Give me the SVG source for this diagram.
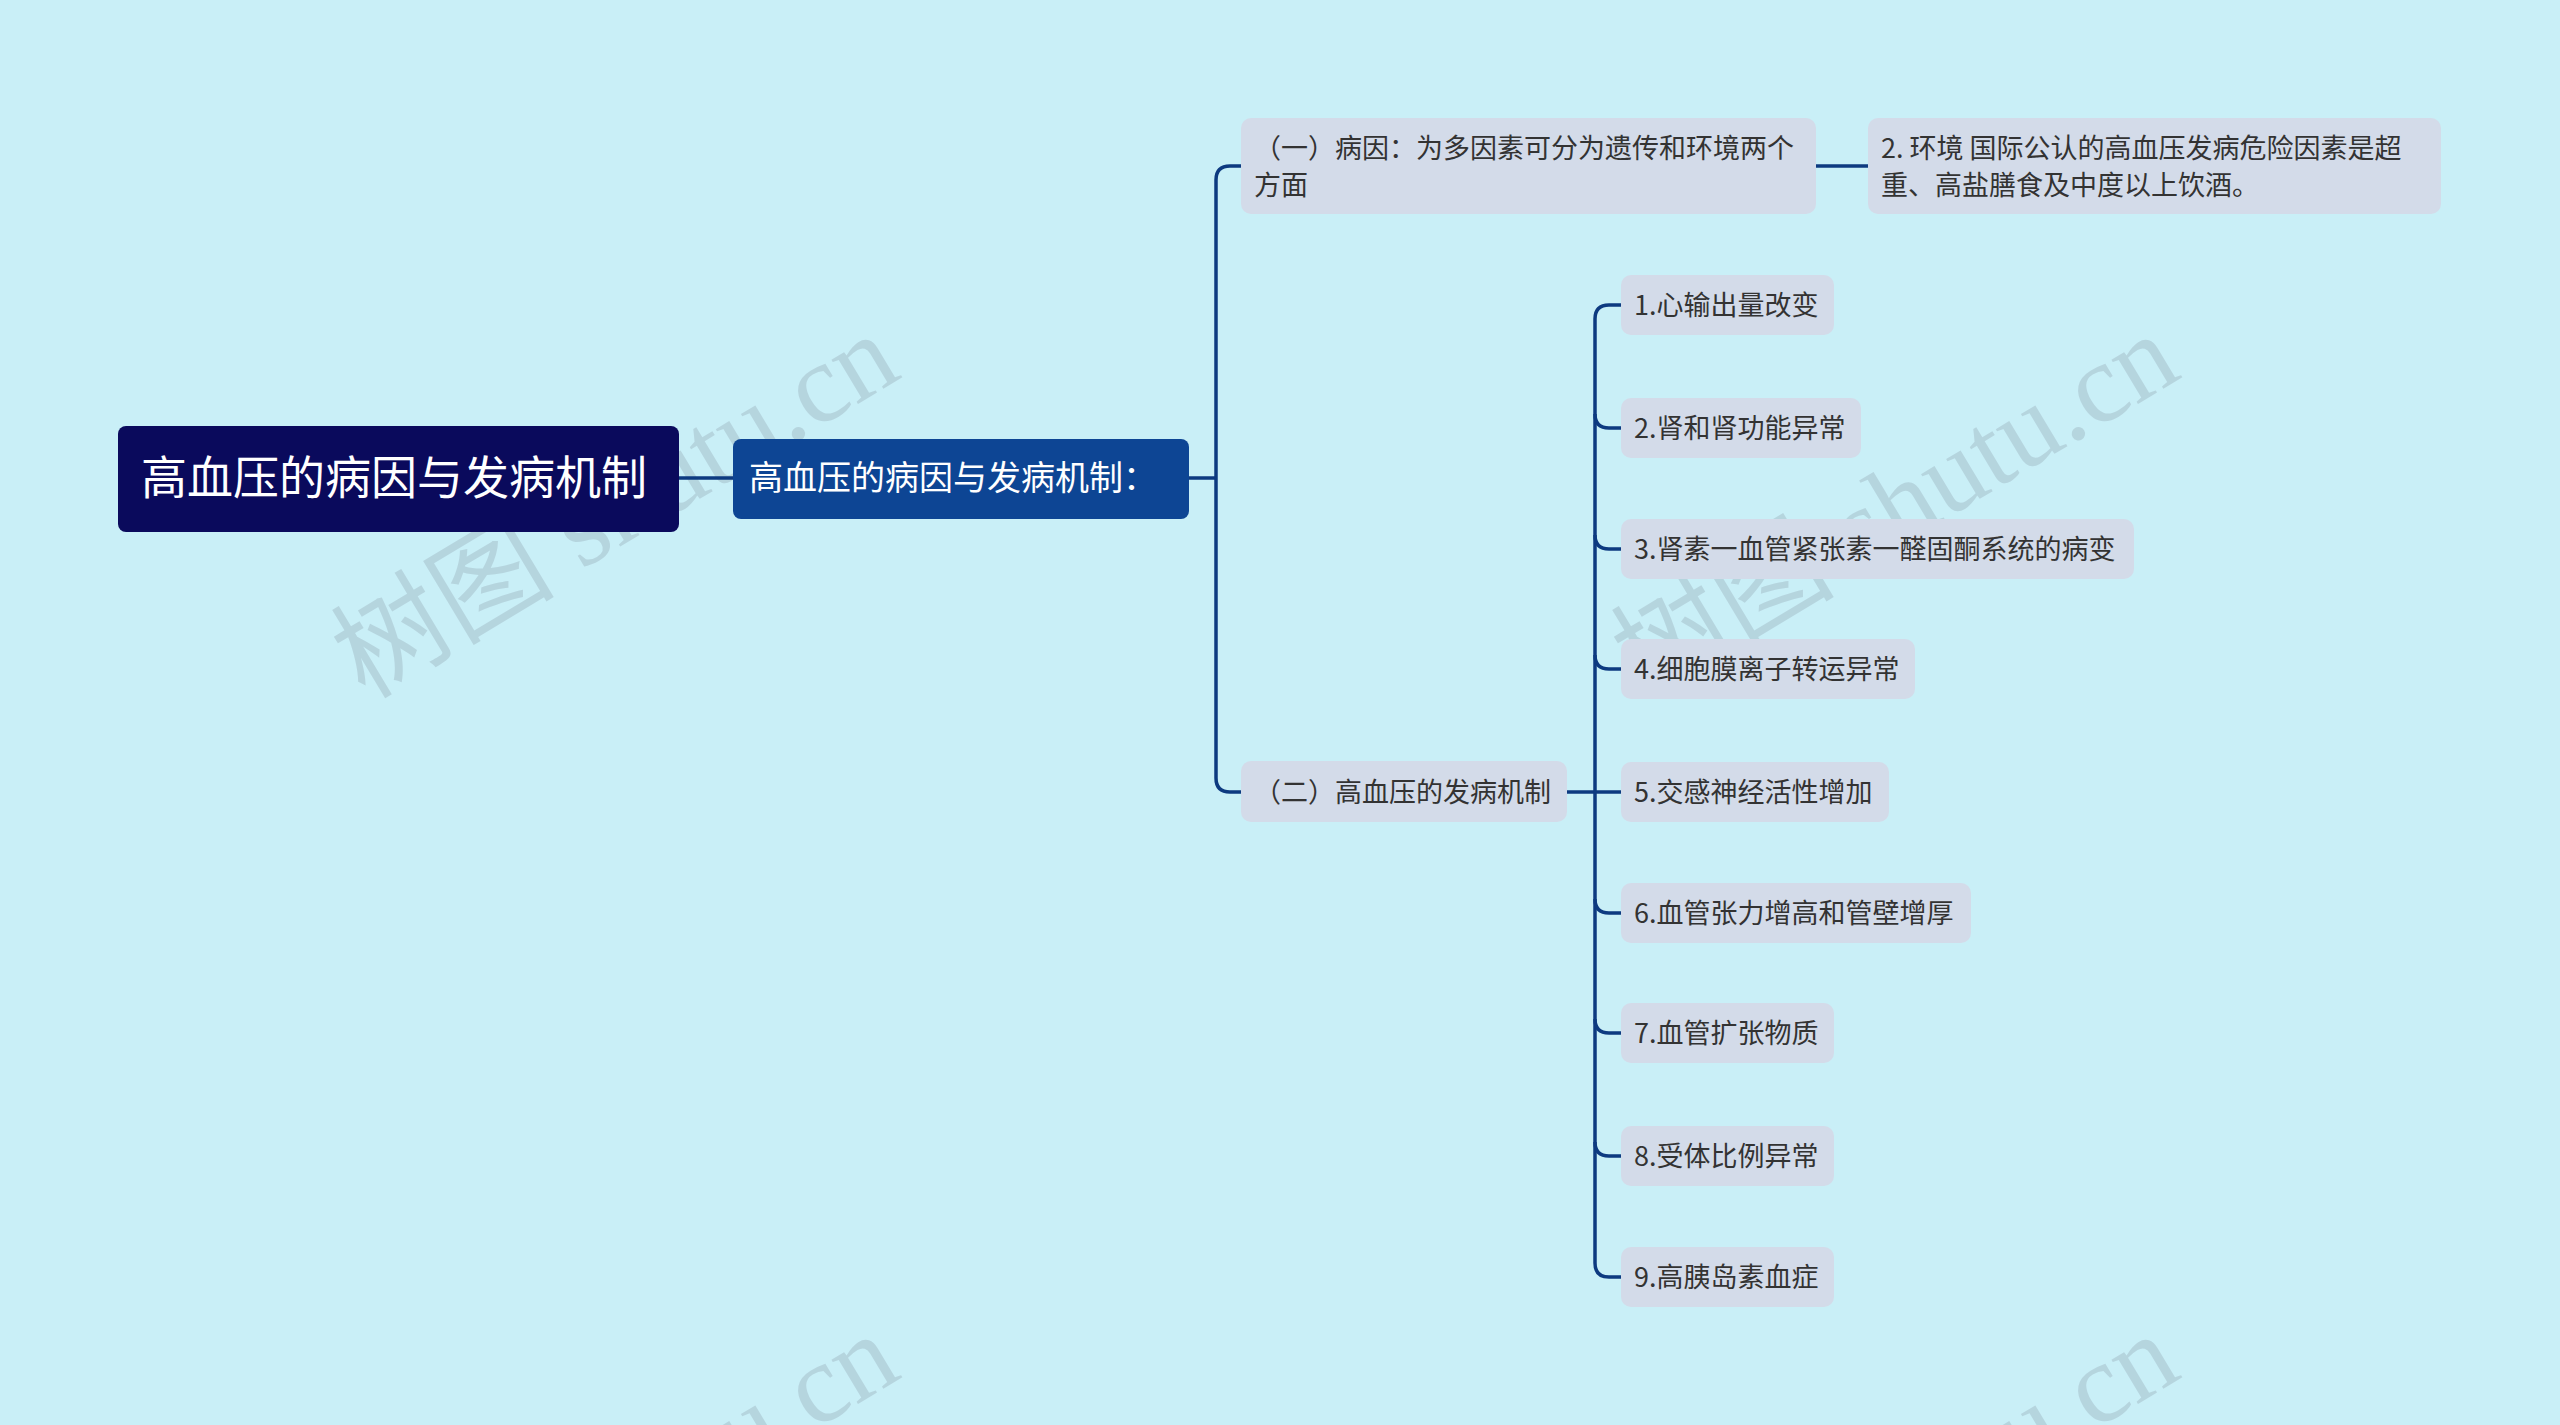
<svg xmlns="http://www.w3.org/2000/svg" width="2560" height="1425" viewBox="0 0 2560 1425">
<style>
.c{fill:none;stroke:#0d3a80;stroke-width:3.5}
.n{fill:#d3dbe9}
.t{font-family:"Noto Sans CJK SC","Noto Sans",sans-serif;font-size:27px;fill:#333}
.w{font-family:"Liberation Serif","Noto Sans CJK SC",serif;font-size:112px;fill:#8a9aa8;opacity:0.3}
</style>
<rect width="2560" height="1425" fill="#c9eff7"/>
<g id="watermarks">
<text class="w" transform="translate(365,700) rotate(-31)">树图 shutu.cn</text>
<text class="w" transform="translate(1645,700) rotate(-31)">树图 shutu.cn</text>
<text class="w" transform="translate(365,1700) rotate(-31)">树图 shutu.cn</text>
<text class="w" transform="translate(1645,1700) rotate(-31)">树图 shutu.cn</text>
</g>
<g id="connectors">
<path class="c" d="M679,478 H733"/>
<path class="c" d="M1189,478 H1216"/>
<path class="c" d="M1216,180 V778"/>
<path class="c" d="M1216,180 Q1216,166 1230,166 H1241"/>
<path class="c" d="M1216,778 Q1216,792 1230,792 H1241"/>
<path class="c" d="M1816,166 H1868"/>
<path class="c" d="M1567,792 H1595"/>
<path class="c" d="M1595,319 V1263"/>
<path class="c" d="M1595,319 Q1595,305 1609,305 H1621"/>
<path class="c" d="M1595,414 Q1595,428 1609,428 H1621"/>
<path class="c" d="M1595,535 Q1595,549 1609,549 H1621"/>
<path class="c" d="M1595,655 Q1595,669 1609,669 H1621"/>
<path class="c" d="M1595,792 H1621"/>
<path class="c" d="M1595,899 Q1595,913 1609,913 H1621"/>
<path class="c" d="M1595,1019 Q1595,1033 1609,1033 H1621"/>
<path class="c" d="M1595,1142 Q1595,1156 1609,1156 H1621"/>
<path class="c" d="M1595,1263 Q1595,1277 1609,1277 H1621"/>
</g>
<g id="root"><rect x="118" y="426" width="561" height="106" rx="8" fill="#0a0a5c"/>
<text x="141" y="494" font-family="Noto Sans CJK SC,sans-serif" font-size="46" fill="#fff">高血压的病因与发病机制</text></g>
<g id="l1"><rect x="733" y="439" width="456" height="80" rx="8" fill="#0d4594"/>
<text x="749" y="490" font-family="Noto Sans CJK SC,sans-serif" font-size="34" fill="#fff">高血压的病因与发病机制：</text></g>
<g id="a"><rect class="n" x="1241" y="118" width="575" height="96" rx="10"/>
<text class="t" x="1254" y="158">（一）病因：为多因素可分为遗传和环境两个</text>
<text class="t" x="1254" y="195">方面</text></g>
<g id="a1"><rect class="n" x="1868" y="118" width="573" height="96" rx="10"/>
<text class="t" x="1881" y="158">2. 环境 国际公认的高血压发病危险因素是超</text>
<text class="t" x="1881" y="195">重、高盐膳食及中度以上饮酒。</text></g>
<g id="b"><rect class="n" x="1241" y="761" width="326" height="61" rx="10"/>
<text class="t" x="1254" y="802">（二）高血压的发病机制</text></g>
<g id="b1"><rect class="n" x="1621" y="275" width="213" height="60" rx="10"/><text class="t" x="1634" y="315">1.心输出量改变</text></g>
<g id="b2"><rect class="n" x="1621" y="398" width="240" height="60" rx="10"/><text class="t" x="1634" y="438">2.肾和肾功能异常</text></g>
<g id="b3"><rect class="n" x="1621" y="519" width="513" height="60" rx="10"/><text class="t" x="1634" y="559">3.肾素一血管紧张素一醛固酮系统的病变</text></g>
<g id="b4"><rect class="n" x="1621" y="639" width="294" height="60" rx="10"/><text class="t" x="1634" y="679">4.细胞膜离子转运异常</text></g>
<g id="b5"><rect class="n" x="1621" y="762" width="268" height="60" rx="10"/><text class="t" x="1634" y="802">5.交感神经活性增加</text></g>
<g id="b6"><rect class="n" x="1621" y="883" width="350" height="60" rx="10"/><text class="t" x="1634" y="923">6.血管张力增高和管壁增厚</text></g>
<g id="b7"><rect class="n" x="1621" y="1003" width="213" height="60" rx="10"/><text class="t" x="1634" y="1043">7.血管扩张物质</text></g>
<g id="b8"><rect class="n" x="1621" y="1126" width="213" height="60" rx="10"/><text class="t" x="1634" y="1166">8.受体比例异常</text></g>
<g id="b9"><rect class="n" x="1621" y="1247" width="213" height="60" rx="10"/><text class="t" x="1634" y="1287">9.高胰岛素血症</text></g>
</svg>
